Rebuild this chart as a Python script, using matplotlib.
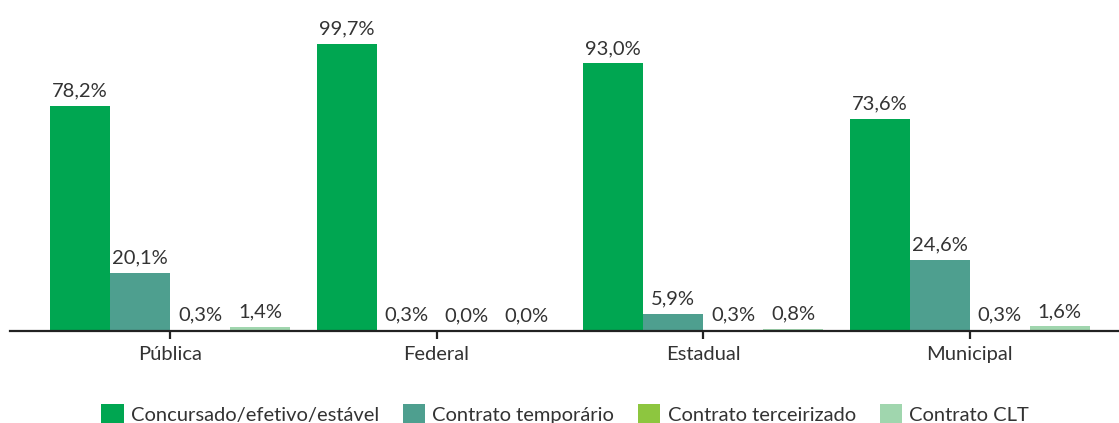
import matplotlib
matplotlib.use("Agg")
import matplotlib.pyplot as plt
import numpy as np

categories = ["Pública", "Federal", "Estadual", "Municipal"]
series_names = ["Concursado/efetivo/estável", "Contrato temporário",
                "Contrato terceirizado", "Contrato CLT"]
concursado = [78.2, 99.7, 93.0, 73.6]
temporario = [20.1, 0.3, 5.9, 24.6]
terceirizado = [0.3, 0.0, 0.3, 0.3]
clt = [1.4, 0.0, 0.8, 1.6]
series = [concursado, temporario, terceirizado, clt]
colors = ["#00A651", "#4E9F8F", "#8DC63F", "#A0D6AE"]

plt.rcParams['font.family'] = ['Lato', 'DejaVu Sans']

fig = plt.figure(figsize=(11.19, 4.23), dpi=100)
ax = fig.add_axes([10/1119, 92/423, 1 - 10/1119, 1 - 92/423])

x = np.arange(len(categories))
w = 0.225
handles = []
for i, (vals, col, name) in enumerate(zip(series, colors, series_names)):
    pos = x + (i - 1.5) * w
    b = ax.bar(pos, vals, width=w, color=col, label=name, linewidth=0)
    handles.append(b)
    for p, v in zip(pos, vals):
        ax.text(p, v + 2.2, f"{v:.1f}%".replace(".", ","), ha="center",
                va="bottom", fontsize=14.5, color="#333333")

ax.set_xlim(-0.6, 3.56)
ax.set_ylim(0, 115)
ax.set_xticks(x)
ax.set_xticklabels(categories, fontsize=14.5, color="#333333")
ax.set_yticks([])
for s in ["top", "right", "left"]:
    ax.spines[s].set_visible(False)
ax.spines["bottom"].set_linewidth(1.6)
ax.spines["bottom"].set_color("#222222")
ax.tick_params(axis="x", length=6, width=1.6, color="#222222", pad=5)

fig.legend(handles=handles, labels=series_names, loc="lower center",
           bbox_to_anchor=(0.505, -0.045), ncol=4, frameon=False,
           fontsize=14.5, handlelength=1.1, handleheight=1.1,
           handletextpad=0.35, columnspacing=1.2, labelcolor="#333333")

fig.savefig("out.png", dpi=100)
